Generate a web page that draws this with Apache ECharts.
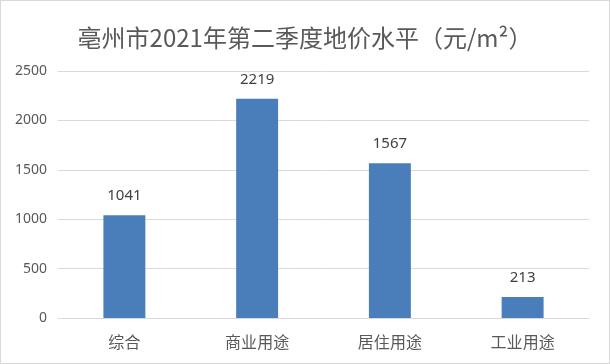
<!DOCTYPE html>
<html><head><meta charset="utf-8">
<script src="https://cdn.jsdelivr.net/npm/echarts@6/dist/echarts.min.js"></script>
<style>html,body{margin:0;padding:0;background:#fff}#c{width:608px;height:362px;border:1px solid #d9d9d9}</style>
</head><body><div id="c"></div>
<script>
const categories = ['综合', '商业用途', '居住用途', '工业用途'];
const values = [1041, 2219, 1567, 213];
const titleText = '亳州市2021年第二季度地价水平（元/m²）';
const chart = echarts.init(document.getElementById('c'));
chart.setOption({
  animation: false,
  title: { text: titleText, left: 'center', top: 20,
    textStyle: { fontFamily: 'Noto Sans CJK SC', fontSize: 24, fontWeight: 'normal', color: '#595959' } },
  grid: { left: 57, right: 20, top: 70, bottom: 45 },
  xAxis: { type: 'category', data: categories,
    axisLine: { lineStyle: { color: '#d9d9d9' } }, axisTick: { show: false },
    axisLabel: { fontFamily: 'Noto Sans CJK SC', fontSize: 16, color: '#595959', margin: 16 } },
  yAxis: { type: 'value', min: 0, max: 2500, interval: 500,
    axisLine: { show: false }, axisTick: { show: false },
    splitLine: { lineStyle: { color: '#d9d9d9' } },
    axisLabel: { fontFamily: 'Noto Sans', fontSize: 14, color: '#595959', margin: 11, formatter: v => String(v) } },
  series: [{ type: 'bar', data: values, barWidth: '31.6%',
    itemStyle: { color: '#4a7ebb' },
    label: { show: true, position: 'top', distance: 12, fontFamily: 'Noto Sans', fontSize: 15, color: '#404040' } }]
});
</script></body></html>
